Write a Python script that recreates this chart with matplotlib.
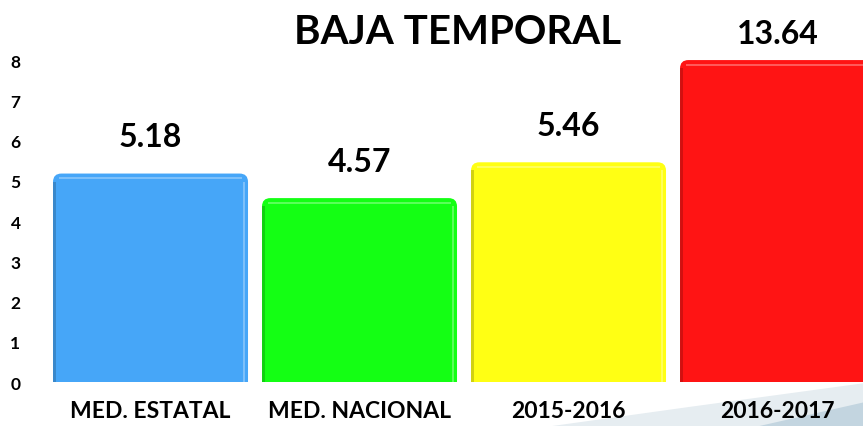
import matplotlib
matplotlib.use("Agg")
import matplotlib.pyplot as plt
from matplotlib.patches import FancyBboxPatch, Polygon

# data
categories = ["MED. ESTATAL", "MED. NACIONAL", "2015-2016", "2016-2017"]
values = [5.18, 4.57, 5.46, 13.64]
colors = ["#46A6F8", "#14FF14", "#FFFF14", "#FF1414"]
yticks = [0, 1, 2, 3, 4, 5, 6, 7, 8]
ymax = 8

plt.rcParams['font.family'] = ['Lato', 'DejaVu Sans']

fig = plt.figure(figsize=(8.63, 4.27), dpi=100)

# faint decorative swoosh in the lower right corner (behind everything)
swoosh = Polygon([(0.64, 0.0), (0.80, 0.045), (1.0, 0.10), (1.0, 0.0)],
                 closed=True, transform=fig.transFigure,
                 facecolor="#E6EDF1", edgecolor="none", zorder=-2)
fig.patches.append(swoosh)
swoosh2 = Polygon([(0.88, 0.0), (1.0, 0.055), (1.0, 0.0)],
                  closed=True, transform=fig.transFigure,
                  facecolor="#C3D5E0", edgecolor="none", zorder=-1)
fig.patches.append(swoosh2)

ax = fig.add_axes([0.0463, 0.103, 0.9537, 0.754])
ax.patch.set_alpha(0)

x = list(range(len(categories)))
width = 0.933
shown = [min(v, ymax) for v in values]
bars = ax.bar(x, shown, width=width, color=colors)

ax.set_xlim(-0.529, 3.409)
ax.set_ylim(0, ymax)

# data units per pixel in x and y, for round corners
aspect = ((3.409 + 0.529) / (0.9537 * 863)) / (ymax / (0.754 * 427))
for rect, c in zip(bars, colors):
    rect.set_visible(False)
    x0, w, h = rect.get_x(), rect.get_width(), rect.get_height()
    ax.add_patch(FancyBboxPatch((x0, -0.5), w, h + 0.5,
                 boxstyle="round,pad=0,rounding_size=0.04",
                 mutation_aspect=1 / aspect,
                 facecolor=c, edgecolor="none"))
    # darker left edge, lighter right edge, highlight under the top
    ax.add_patch(FancyBboxPatch((x0, -0.5), w * 0.016, h + 0.3,
                 boxstyle="square,pad=0", facecolor="black", alpha=0.18,
                 edgecolor="none"))
    ax.add_patch(FancyBboxPatch((x0 + w * 0.975, -0.5), w * 0.012, h + 0.3,
                 boxstyle="square,pad=0", facecolor="white", alpha=0.3,
                 edgecolor="none"))
    ax.add_patch(FancyBboxPatch((x0 + w * 0.03, h - 0.14), w * 0.94, 0.05,
                 boxstyle="square,pad=0", facecolor="white", alpha=0.3,
                 edgecolor="none"))

for xi, v, s in zip(x, values, shown):
    off = 0.55 if v <= ymax else 0.3
    ax.text(xi, s + off, f"{v:.2f}", ha="center", va="bottom",
            fontsize=23, fontweight="bold", clip_on=False)

ax.set_yticks(yticks)
ax.set_yticklabels([str(t) for t in yticks], fontsize=12.5, fontweight="bold")
ax.set_xticks(x)
ax.set_xticklabels(categories, fontsize=16.5, fontweight="bold")
ax.tick_params(axis="y", length=0, pad=14)
ax.tick_params(axis="x", length=0, pad=13)
for s in ax.spines.values():
    s.set_visible(False)

fig.text(0.53, 0.925, "BAJA TEMPORAL", ha="center", va="center",
         fontsize=29, fontweight="bold")

fig.savefig("out.png", dpi=100)
